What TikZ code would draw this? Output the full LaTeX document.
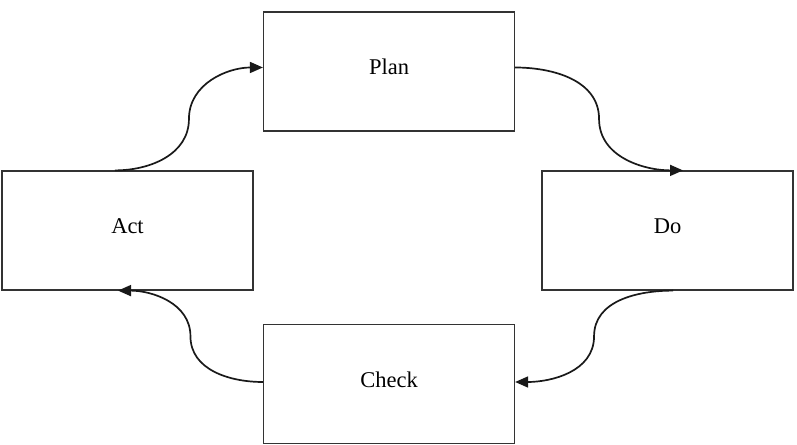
\documentclass[tikz,border=0pt]{standalone}
\usepackage{fontspec}
\setmainfont{Liberation Serif}
\usetikzlibrary{arrows.meta,calc}

\begin{document}
\begin{tikzpicture}[x=1pt,y=1pt,
  stage/.style={draw=black!80, line width=1.2pt, minimum width=251pt, minimum height=119pt,
    inner sep=0pt, text height=15pt, text depth=8pt, font=\fontsize{22.5}{26}\selectfont},
  flow/.style={draw=black!90, line width=1.7pt, -{Triangle[length=13pt,width=11pt]}}
]
\useasboundingbox (0,0) rectangle (797,444);

% the four stages of the cycle
\node[stage] (plan)  at (389,372.5) {Plan};
\node[stage] (act)   at (127.5,213.5) {Act};
\node[stage] (do)    at (667.5,213.5) {Do};
\node[stage] (check) at (389,60) {Check};

% end points of the connectors
\coordinate (a1) at ([xshift=-12.5pt]act.north);
\coordinate (b1) at ([yshift=4pt]plan.west);
\coordinate (a2) at ([yshift=4pt]plan.east);
\coordinate (b2) at ([xshift=15.5pt]do.north);
\coordinate (a3) at ([xshift=5.5pt]do.south);
\coordinate (b3) at ([yshift=2pt]check.east);
\coordinate (a4) at ([yshift=2pt]check.west);
\coordinate (b4) at ([xshift=-9.5pt]act.south);

% S-shaped connectors, vertical at their midpoints
\draw[flow] (a1) to[out=0,in=-90] ($(a1)!0.5!(b1)$) to[out=90,in=180] (b1);
\draw[flow] (a2) to[out=0,in=90] ($(a2)!0.5!(b2)$) to[out=-90,in=180] (b2);
\draw[flow] (a3) to[out=180,in=90] ($(a3)!0.5!(b3)$) to[out=-90,in=0] (b3);
\draw[flow] (a4) to[out=180,in=-90] ($(a4)!0.5!(b4)$) to[out=90,in=0] (b4);
\end{tikzpicture}
\end{document}
